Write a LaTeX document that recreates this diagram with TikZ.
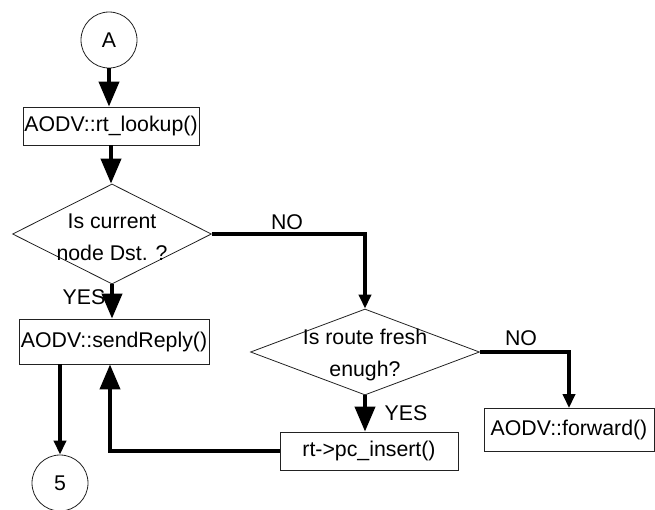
\documentclass[tikz,border=0pt]{standalone}
\usepackage{fontspec}
\setmainfont{Liberation Sans}
\usetikzlibrary{arrows.meta, positioning, shapes.geometric, calc}
\definecolor{cline}{HTML}{000000}
\definecolor{cedge}{HTML}{222222}
\tikzset{
  every picture/.style={font=\fontsize{21.3}{32}\selectfont, line width=0.8pt},
  box/.style={draw=cedge, inner sep=0pt, minimum width=#1, minimum height=40pt},
  box/.default=176pt,
  decision/.style={draw=cedge, diamond, inner sep=0pt, label={[align=center, yshift=-3pt]center:#1}},
  connector/.style={draw=cedge, circle, minimum size=56pt, inner sep=0pt},
  bigarrow/.style={-{Triangle[length=25pt, width=20pt]}, draw=cline, line width=4pt},
  smallarrow/.style={-{Triangle[length=14pt, width=12pt]}, draw=cline, line width=3.5pt},
  answer/.style={inner sep=0pt},
}

\begin{document}
\begin{tikzpicture}[x=1pt, y=-1pt]
  \useasboundingbox (0,0) rectangle (655,509);
  \node[connector] (a) at (109,40) {A};
  \node[box=176pt, minimum height=38pt] (lookup) at (111,126) {AODV::rt\_lookup()};
  \node[decision={Is current\\node Dst. ?}, minimum width=199pt, minimum height=100pt] (dst) at (112,234) {};
  \node[box=190pt, minimum height=45pt] (reply) at (114,341.5) {AODV::sendReply()};
  \node[decision={Is route fresh\\enugh?}, minimum width=229pt, minimum height=86pt] (fresh) at (365,352) {};
  \node[box=178pt, minimum height=38pt] (pc) at (369,451) {rt->pc\_insert()};
  \node[box=170pt, minimum height=43pt] (fwd) at (569,430) {AODV::forward()};
  \node[connector] (five) at (60,483) {5};
  \draw[bigarrow] (a.south) -- (a.south |- lookup.north);
  \draw[bigarrow] (lookup.south) -- (lookup.south |- dst.north);
  \draw[smallarrow] (dst.east) -| (fresh.north);
  \node[answer] (no1) at (287,222) {NO};
  \draw[bigarrow] (dst.south) -- (dst.south |- reply.north);
  \node[answer] (yes1) at (84,297) {YES};
  \draw[bigarrow] (fresh.south) -- (fresh.south |- pc.north);
  \node[answer] (yes2) at (406,413) {YES};
  \draw[smallarrow] (fresh.east) -| (fwd.north);
  \node[answer] (no2) at (521,338) {NO};
  \draw[smallarrow] (five.north |- reply.south) -- (five.north);
  \draw[bigarrow] (pc.west) -| ([xshift=-4pt]reply.south);
\end{tikzpicture}
\end{document}
